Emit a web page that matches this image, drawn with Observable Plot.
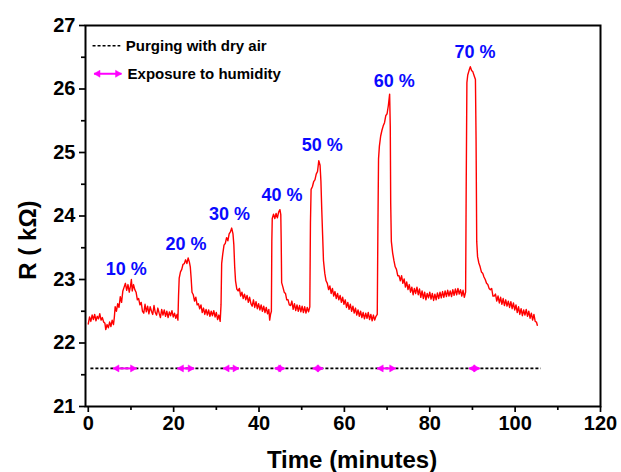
<!DOCTYPE html>
<html>
<head>
<meta charset="utf-8">
<script src="https://cdn.jsdelivr.net/npm/d3@7"></script>
<script src="https://cdn.jsdelivr.net/npm/@observablehq/plot@0.6"></script>
<style>
  html, body { margin: 0; padding: 0; background: #fff; }
  #chart { width: 621px; height: 472px; }
</style>
</head>
<body>
<div id="chart"></div>
<script>
// ---- tick values ----
const xMajor = [0, 20, 40, 60, 80, 100, 120];
const xMinor = [10, 30, 50, 70, 90, 110];
const yMajor = [21, 22, 23, 24, 25, 26, 27];
const yMinor = [21.5, 22.5, 23.5, 24.5, 25.5, 26.5];

// ---- resistance trace [time (min), R (kOhm)] ----
const trace = [
[0.0,22.30],[0.3,22.41],[0.6,22.34],[0.9,22.44],[1.2,22.37],[1.5,22.45],[1.8,22.35],[2.1,22.42],[2.4,22.38],[2.7,22.46],[3.0,22.36],[3.3,22.40],[3.6,22.33],[3.9,22.31],[4.1,22.21],[4.4,22.29],[4.7,22.24],[5.0,22.33],[5.3,22.26],[5.6,22.36],[5.9,22.29],[6.1,22.40],
[6.3,22.57],[6.6,22.50],[6.9,22.62],[7.2,22.56],[7.5,22.73],[7.8,22.64],[8.1,22.82],[8.4,22.88],[8.7,22.94],[9.0,22.83],[9.3,22.92],[9.6,22.80],[9.9,22.90],[10.1,23.00],[10.3,22.82],[10.6,22.92],[10.9,22.84],[11.2,22.80],[11.5,22.68],[11.8,22.70],[12.1,22.60],[12.4,22.64],[12.7,22.50],[13.0,22.47],[13.3,22.61],[13.6,22.49],[13.9,22.58],[14.2,22.46],[14.5,22.57],[14.8,22.50],[15.1,22.45],[15.4,22.59],[15.7,22.48],[16.0,22.44],[16.3,22.55],[16.6,22.47],[16.9,22.40],[17.2,22.53],[17.5,22.44],[17.8,22.52],[18.1,22.42],[18.4,22.50],[18.7,22.40],[19.0,22.49],[19.3,22.43],[19.6,22.51],[19.9,22.41],[20.2,22.47],[20.5,22.39],[20.8,22.45],[21.0,22.36],
[21.15,22.75],[21.3,23.02],[21.6,23.12],[21.9,23.16],[22.2,23.24],[22.5,23.25],[22.8,23.31],[23.1,23.25],[23.4,23.34],[23.7,23.27],[23.9,23.20],[24.1,23.02],[24.3,22.80],[24.6,22.76],[24.9,22.66],[25.2,22.72],[25.5,22.60],[25.8,22.62],[26.1,22.54],[26.4,22.60],[26.7,22.48],[27.0,22.55],[27.3,22.45],[27.6,22.53],[27.9,22.44],[28.2,22.52],[28.5,22.42],[28.8,22.50],[29.1,22.43],[29.4,22.51],[29.7,22.41],[30.0,22.48],[30.3,22.37],[30.6,22.44],[30.9,22.34],
[31.1,22.60],[31.25,23.25],[31.5,23.40],[31.8,23.54],[32.1,23.57],[32.4,23.66],[32.7,23.61],[33.0,23.72],[33.3,23.75],[33.6,23.81],[33.9,23.72],[34.1,23.55],[34.3,23.20],[34.5,22.98],[34.8,22.85],[35.1,22.82],[35.4,22.86],[35.7,22.74],[36.0,22.80],[36.3,22.70],[36.6,22.77],[36.9,22.68],[37.2,22.75],[37.5,22.64],[37.8,22.72],[38.1,22.62],[38.4,22.58],[38.7,22.68],[39.0,22.56],[39.3,22.65],[39.6,22.54],[39.9,22.62],[40.2,22.52],[40.5,22.60],[40.8,22.50],[41.1,22.58],[41.4,22.48],[41.7,22.56],[42.0,22.46],[42.3,22.53],[42.5,22.36],[42.7,22.45],[42.9,22.50],
[43.0,23.60],[43.1,23.96],[43.4,24.03],[43.7,23.96],[44.0,24.04],[44.3,23.97],[44.6,24.06],[44.9,24.10],[45.1,24.02],[45.2,23.60],[45.3,22.95],[45.6,22.88],[45.9,22.80],[46.2,22.78],[46.5,22.68],[46.8,22.68],[47.1,22.60],[47.4,22.59],[47.7,22.66],[48.0,22.53],[48.3,22.62],[48.6,22.51],[48.9,22.60],[49.2,22.50],[49.5,22.59],[49.8,22.49],[50.1,22.58],[50.4,22.48],[50.7,22.57],[51.0,22.47],[51.3,22.56],[51.6,22.49],[51.9,22.57],
[52.05,23.90],[52.2,24.42],[52.5,24.46],[52.8,24.54],[53.1,24.57],[53.4,24.66],[53.7,24.70],[54.0,24.87],[54.3,24.80],[54.5,24.55],[54.7,24.10],[54.9,23.70],[55.1,23.30],[55.4,23.10],[55.7,22.98],[56.0,22.94],[56.3,22.84],[56.6,22.90],[56.9,22.78],[57.2,22.86],[57.5,22.74],[57.8,22.81],[58.1,22.70],[58.4,22.78],[58.7,22.68],[59.0,22.75],[59.3,22.64],[59.6,22.72],[59.9,22.61],[60.2,22.68],[60.5,22.56],[60.8,22.64],[61.1,22.53],[61.4,22.61],[61.7,22.50],[62.0,22.58],[62.3,22.47],[62.6,22.55],[62.9,22.44],[63.2,22.52],[63.5,22.42],[63.8,22.50],[64.1,22.40],[64.4,22.48],[64.7,22.38],[65.0,22.47],[65.3,22.39],[65.6,22.48],[65.9,22.37],[66.2,22.45],[66.5,22.35],[66.8,22.44],[67.1,22.36],[67.4,22.42],[67.7,22.45],
[67.85,23.80],[68.0,24.90],[68.2,25.10],[68.5,25.26],[68.8,25.35],[69.1,25.42],[69.4,25.47],[69.7,25.58],[70.0,25.61],[70.3,25.74],[70.6,25.92],[70.75,25.40],[70.85,24.20],[71.0,23.60],[71.3,23.42],[71.6,23.30],[71.9,23.20],[72.2,23.16],[72.5,23.06],[72.8,23.06],[73.1,22.98],[73.4,23.06],[73.7,22.94],[74.0,23.01],[74.3,22.88],[74.6,22.96],[74.9,22.84],[75.2,22.92],[75.5,22.80],[75.8,22.88],[76.1,22.76],[76.4,22.86],[76.7,22.78],[77.0,22.88],[77.3,22.76],[77.6,22.85],[77.9,22.72],[78.2,22.82],[78.5,22.70],[78.8,22.80],[79.1,22.68],[79.4,22.78],[79.7,22.71],[80.0,22.80],[80.3,22.69],[80.6,22.78],[80.9,22.67],[81.2,22.77],[81.5,22.68],[81.8,22.79],[82.1,22.70],[82.4,22.80],[82.7,22.71],[83.0,22.81],[83.3,22.72],[83.6,22.82],[83.9,22.73],[84.2,22.83],[84.5,22.74],[84.8,22.82],[85.1,22.73],[85.4,22.84],[85.7,22.75],[86.0,22.85],[86.3,22.76],[86.6,22.86],[86.9,22.77],[87.2,22.84],[87.5,22.74],[87.8,22.83],[88.1,22.72],[88.4,22.80],
[88.55,24.60],[88.7,26.10],[88.9,26.22],[89.2,26.29],[89.5,26.35],[89.8,26.29],[90.1,26.27],[90.4,26.21],[90.7,26.15],[90.85,25.20],[91.0,23.60],[91.2,23.36],[91.5,23.26],[91.8,23.20],[92.1,23.12],[92.4,23.10],[92.7,23.04],[93.0,23.00],[93.3,22.94],[93.6,22.92],[93.9,22.86],[94.2,22.84],[94.5,22.86],[94.8,22.74],[95.1,22.74],[95.4,22.77],[95.7,22.66],[96.0,22.74],[96.3,22.63],[96.6,22.72],[96.9,22.61],[97.2,22.70],[97.5,22.59],[97.8,22.68],[98.1,22.58],[98.4,22.66],[98.7,22.56],[99.0,22.65],[99.3,22.54],[99.6,22.63],[99.9,22.52],[100.2,22.60],[100.5,22.48],[100.8,22.57],[101.1,22.45],[101.4,22.54],[101.7,22.43],[102.0,22.52],[102.3,22.44],[102.6,22.53],[102.9,22.42],[103.2,22.50],[103.5,22.39],[103.8,22.47],[104.1,22.36],[104.4,22.45],[104.7,22.34],[105.0,22.33],[105.2,22.28]
];

// ---- humidity step labels ----
const humidityLabels = ["10 %", "20 %", "30 %", "40 %", "50 %", "60 %", "70 %"];
const labelTime = [8.9, 22.9, 33.1, 45.4, 54.8, 71.7, 90.6];
const labelR = [23.16, 23.55, 24.03, 24.33, 25.11, 26.12, 26.58];

// ---- exposure intervals (double arrows) and purge baseline ----
const exposureStart = [5.8, 20.9, 31.6, 43.7, 52.6, 67.7, 89.2];
const exposureEnd = [11.3, 24.8, 35.3, 46.0, 55.0, 72.0, 91.7];
const purgeLevel = [21.6];
const purgeFrom = [0.5];
const purgeTo = [106];

// ---- legend ----
const legendText = ["Purging with dry air", "Exposure to humidity"];
const legendSampleFrom = [1.0, 1.36];
const legendSampleTo = [7.5, 7.78];
const legendRow = [26.68, 26.24];
const legendTextX = [8.8, 9.2];

const xTitle = "Time (minutes)";
const yTitle = "R ( k\u03A9)";
const yTitleAt = [24];

const magenta = "#ff00ff";
const blue = "#0a0aff";

const arrows = exposureStart.map((s, i) => ({x1: s, x2: exposureEnd[i], y: purgeLevel[0]}));
arrows.push({x1: legendSampleFrom[1], x2: legendSampleTo[1], y: legendRow[1]});
const purge = [{x1: purgeFrom[0], x2: purgeTo[0], y: purgeLevel[0]},
               {x1: legendSampleFrom[0], x2: legendSampleTo[0], y: legendRow[0]}];
const labels = humidityLabels.map((t, i) => ({t, x: labelTime[i], y: labelR[i]}));
const legend = legendText.map((t, i) => ({t, x: legendTextX[i], y: legendRow[i]}));

const headR = 2.6, headOff = 3.9;

const chart = Plot.plot({
  width: 621,
  height: 472,
  marginLeft: 85,
  marginRight: 21,
  marginTop: 25,
  marginBottom: 66,
  x: {domain: [-0.65, 120]},
  y: {domain: [21, 27]},
  style: {fontFamily: "'Liberation Sans', Arial, Helvetica, sans-serif", fontWeight: "bold", fontSize: "20px", color: "#000", background: "#fff", overflow: "visible"},
  marks: [
    Plot.axisX({ticks: xMinor, tickSize: 4, strokeWidth: 1.7, tickFormat: () => "", label: null}),
    Plot.axisY({ticks: yMinor, tickSize: 4, strokeWidth: 1.7, tickFormat: () => "", label: null}),
    Plot.axisX({ticks: xMajor, tickSize: 6, tickPadding: 3, strokeWidth: 1.7, tickFormat: d => d, label: null, fontSize: 20, fontWeight: "bold"}),
    Plot.axisY({ticks: yMajor, tickSize: 6, tickPadding: 4, strokeWidth: 1.7, tickFormat: d => d, label: null, fontSize: 20, fontWeight: "bold"}),
    Plot.frame({stroke: "#000", strokeWidth: 2}),
    Plot.line(trace, {x: d => d[0], y: d => d[1], stroke: "#ff0000", strokeWidth: 1.4}),
    Plot.link(purge, {x1: "x1", x2: "x2", y1: "y", y2: "y", stroke: "#000", strokeWidth: 1.6, strokeDasharray: "3,2"}),
    Plot.link(arrows, {x1: "x1", x2: "x2", y1: "y", y2: "y", stroke: magenta, strokeWidth: 2}),
    Plot.dot(arrows, {x: "x1", y: "y", symbol: "triangle", r: headR, rotate: -90, dx: headOff, fill: magenta, stroke: magenta, strokeWidth: 0.5}),
    Plot.dot(arrows, {x: "x2", y: "y", symbol: "triangle", r: headR, rotate: 90, dx: -headOff, fill: magenta, stroke: magenta, strokeWidth: 0.5}),
    Plot.text(labels, {x: "x", y: "y", text: "t", fill: blue, fontSize: 18, fontWeight: "bold", textAnchor: "middle", lineAnchor: "middle"}),
    Plot.text(legend, {x: "x", y: "y", text: "t", fill: "#000", fontSize: 15, fontWeight: "bold", textAnchor: "start", lineAnchor: "middle"}),
    Plot.text([xTitle], {text: d => d, frameAnchor: "bottom", dy: 54, dx: 9, fontSize: 24, fontWeight: "bold", textAnchor: "middle", lineAnchor: "middle"}),
    Plot.text([yTitle], {text: d => d, y: yTitleAt, frameAnchor: "left", dx: -57, dy: 24, rotate: -90, fontSize: 24, fontWeight: "bold", textAnchor: "middle", lineAnchor: "middle"})
  ]
});
document.getElementById("chart").appendChild(chart);
</script>
</body>
</html>
